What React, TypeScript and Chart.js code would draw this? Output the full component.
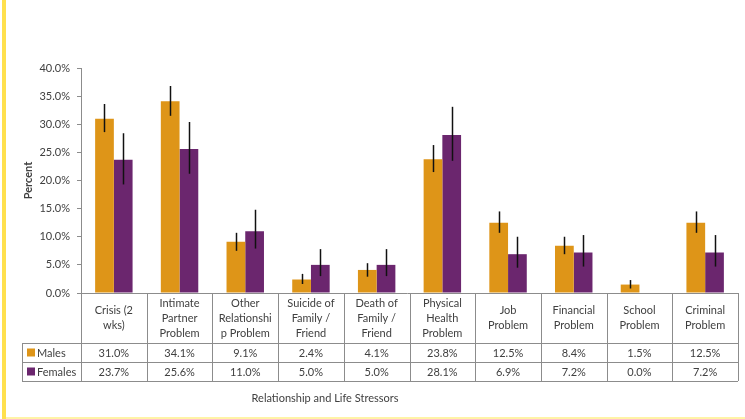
import React, { useEffect, useRef } from "react";
import { Chart, registerables } from "chart.js";

Chart.register(...registerables);

const categoryLines: string[][] = [
  ["Crisis (2", "wks)"],
  ["Intimate", "Partner", "Problem"],
  ["Other", "Relationshi", "p Problem"],
  ["Suicide of", "Family /", "Friend"],
  ["Death of", "Family /", "Friend"],
  ["Physical", "Health", "Problem"],
  ["Job", "Problem"],
  ["Financial", "Problem"],
  ["School", "Problem"],
  ["Criminal", "Problem"],
];
const categories = categoryLines.map((l) => l.join(" "));

const males = [31.0, 34.1, 9.1, 2.4, 4.1, 23.8, 12.5, 8.4, 1.5, 12.5];
const females = [23.7, 25.6, 11.0, 5.0, 5.0, 28.1, 6.9, 7.2, 0.0, 7.2];

const malesLow = [28.6, 31.5, 7.5, 1.6, 2.9, 21.5, 10.7, 6.9, 0.8, 10.7];
const malesHigh = [33.6, 36.8, 10.7, 3.4, 5.3, 26.3, 14.5, 10.0, 2.3, 14.5];
const femalesLow = [19.3, 21.2, 7.9, 3.0, 3.0, 23.5, 4.5, 4.7, 0.0, 4.7];
const femalesHigh = [28.4, 30.4, 14.8, 7.8, 7.8, 33.1, 10.0, 10.3, 0.0, 10.3];

const seriesNames = ["Males", "Females"];
const colors = ["#DE9518", "#6B266E"];
const FONT = "Lato, 'Noto Sans', sans-serif";
const TEXT = "#404040";
const LINE = "#8c8c8c";

const fmt = (v: number) => v.toFixed(1) + "%";

const errorBars = {
  id: "errorBars",
  afterDatasetsDraw(chart: any) {
    const ctx = chart.ctx;
    const y = chart.scales.y;
    const lows = [malesLow, femalesLow];
    const highs = [malesHigh, femalesHigh];
    ctx.save();
    ctx.strokeStyle = "#111";
    ctx.lineWidth = 1.5;
    chart.data.datasets.forEach((_: any, di: number) => {
      const meta = chart.getDatasetMeta(di);
      meta.data.forEach((bar: any, i: number) => {
        const lo = lows[di][i];
        const hi = highs[di][i];
        if (hi - lo <= 0) return;
        const x = Math.round(bar.x) + 0.5;
        ctx.beginPath();
        ctx.moveTo(x, y.getPixelForValue(hi));
        ctx.lineTo(x, y.getPixelForValue(lo));
        ctx.stroke();
      });
    });
    ctx.restore();
  },
};

const decor = {
  id: "decor",
  beforeDraw(chart: any) {
    const ctx = chart.ctx;
    const H = chart.height;
    const W = chart.width;
    ctx.save();
    ctx.fillStyle = "#ffffff";
    ctx.fillRect(0, 0, W, H);
    ctx.fillStyle = "#FFE04D";
    ctx.fillRect(2, 0, 4, H);
    ctx.fillStyle = "#FFF3A6";
    ctx.fillRect(6, H - 2, W - 6, 2);
    ctx.restore();
  },
  afterDraw(chart: any) {
    const ctx = chart.ctx;
    const area = chart.chartArea;
    const xs = chart.scales.x;
    const left = area.left;
    const right = area.right;
    const n = categories.length;
    const step = (right - left) / n;
    const top = area.bottom;
    const headBottom = top + 50;
    const r1 = headBottom + 19;
    const r2 = r1 + 19;
    const legendLeft = 22;
    ctx.save();
    ctx.strokeStyle = LINE;
    ctx.lineWidth = 1;
    const hl = (x1: number, x2: number, yy: number) => {
      ctx.beginPath();
      ctx.moveTo(x1, Math.round(yy) + 0.5);
      ctx.lineTo(x2, Math.round(yy) + 0.5);
      ctx.stroke();
    };
    const vl = (xx: number, y1: number, y2: number) => {
      ctx.beginPath();
      ctx.moveTo(Math.round(xx) + 0.5, y1);
      ctx.lineTo(Math.round(xx) + 0.5, y2);
      ctx.stroke();
    };
    hl(left - 4, right, top);
    hl(legendLeft, right, headBottom);
    hl(legendLeft, right, r1);
    hl(legendLeft, right, r2);
    for (let i = 0; i <= n; i++) vl(left + step * i, top, r2);
    vl(legendLeft, headBottom, r2);

    ctx.fillStyle = TEXT;
    ctx.font = `11px ${FONT}`;
    ctx.textAlign = "center";
    ctx.textBaseline = "middle";
    const mid = (top + headBottom) / 2;
    categoryLines.forEach((lines, i) => {
      const cx = xs.getPixelForValue(i);
      const lh = 15;
      const y0 = mid - ((lines.length - 1) * lh) / 2;
      lines.forEach((t, j) => ctx.fillText(t, cx, y0 + j * lh));
      ctx.fillText(fmt(males[i]), cx, (headBottom + r1) / 2 + 1);
      ctx.fillText(fmt(females[i]), cx, (r1 + r2) / 2 + 1);
    });
    [headBottom, r1].forEach((ry, k) => {
      const cy = ry + 9.5;
      ctx.fillStyle = colors[k];
      ctx.fillRect(27, cy - 4, 8, 8);
      ctx.fillStyle = TEXT;
      ctx.textAlign = "left";
      ctx.fillText(seriesNames[k], 37, cy + 1);
    });
    ctx.textAlign = "center";
    ctx.fillText("Relationship and Life Stressors", 325, 398);
    ctx.font = `bold 11px ${FONT}`;
    ctx.translate(28, (area.top + area.bottom) / 2);
    ctx.rotate(-Math.PI / 2);
    ctx.fillText("Percent", 0, 0);
    ctx.restore();
  },
};

export default function App() {
  const ref = useRef<HTMLCanvasElement>(null);
  useEffect(() => {
    document.body.style.margin = "0";
    const chart = new Chart(ref.current as HTMLCanvasElement, {
      type: "bar",
      data: {
        labels: categories,
        datasets: [
          { label: seriesNames[0], data: males, backgroundColor: colors[0] },
          { label: seriesNames[1], data: females, backgroundColor: colors[1] },
        ],
      },
      options: {
        animation: false,
        responsive: false,
        devicePixelRatio: 1,
        layout: { padding: { left: 0, top: 68, right: 7, bottom: 126 } },
        datasets: { bar: { categoryPercentage: 0.57, barPercentage: 1 } },
        plugins: { legend: { display: false }, tooltip: { enabled: false } },
        scales: {
          x: { display: false },
          y: {
            min: 0,
            max: 40,
            afterFit: (s: any) => {
              s.width = 81;
            },
            ticks: {
              stepSize: 5,
              callback: (v: any) => fmt(Number(v)),
              font: { family: FONT, size: 11 },
              color: TEXT,
              padding: 7,
            },
            grid: { drawOnChartArea: false, tickLength: 4, color: LINE },
            border: { color: LINE },
          },
        },
      },
      plugins: [decor, errorBars],
    });
    return () => chart.destroy();
  }, []);
  return (
    <div style={{ width: 745, height: 419 }}>
      <canvas ref={ref} width={745} height={419} />
    </div>
  );
}
